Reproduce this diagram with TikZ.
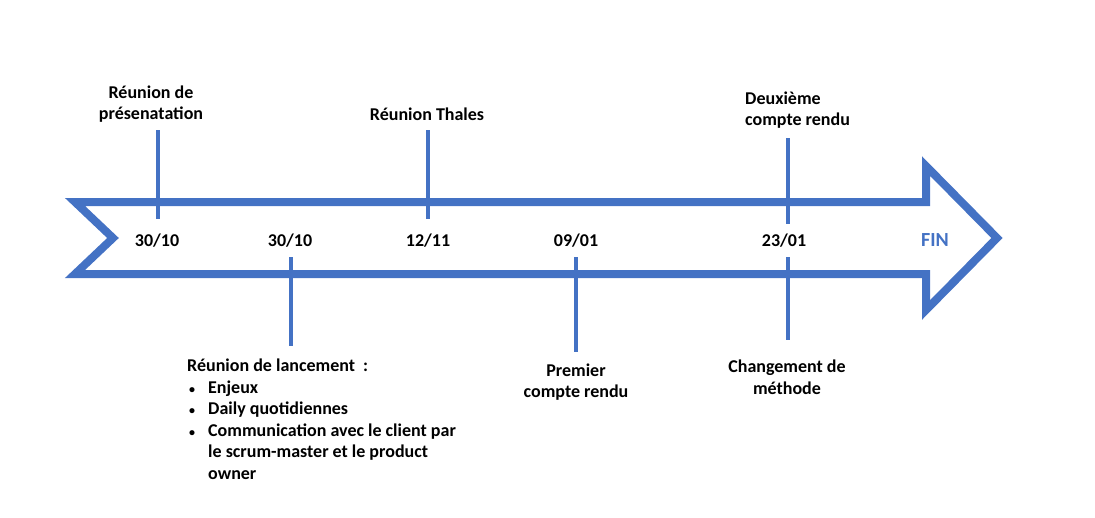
\documentclass[tikz,border=0pt]{standalone}
\usepackage{fontspec}
\setmainfont{Carlito}
\usetikzlibrary{positioning}
\definecolor{tlblue}{RGB}{68,114,196}
\newcommand{\tlbullet}[1]{\makebox[21pt][l]{\hspace{2pt}{\fontsize{12}{12}\selectfont\textbullet}}#1}

\begin{document}
\begin{tikzpicture}[x=1pt,y=-1pt,
  lbl/.style={font=\bfseries\fontsize{18}{21.5}\selectfont, align=center, inner sep=0pt},
  tick/.style={tlblue, line width=4pt}]
\useasboundingbox (0,0) rectangle (1095,517);
% -- Arrow body --
\draw[tlblue, line width=8pt, line join=miter]
  (75,202) -- (926,202) -- (926,166) -- (997,238) -- (926,310)
  -- (926,274) -- (75,274) -- (113,238) -- cycle;
% -- Dates inside the arrow --
\foreach \nm/\px/\dt in {d1/157/30\slash 10, d2/290/30\slash 10, d3/428/12\slash 11,
  d4/576/09\slash 01, d5/784/23\slash 01} {
  \node[lbl] (\nm) at (\px,241) {\dt};
}
\node[lbl, text=tlblue, font=\bfseries\fontsize{20}{20}\selectfont] (fin) at (935,240) {FIN};
% Tick ends
\foreach \nm/\px/\ya/\yb in {t1/158/130/219, t2/291/257/346, t3/428/130/219,
  t4/576/257/352, t5/788/138/224, t6/788/257/340} {
  \coordinate (\nm a) at (\px,\ya);
  \coordinate (\nm b) at (\px,\yb);
  \draw[tick] (\nm a) -- (\nm b);
}
% -- Labels above --
\node[lbl] (pres) at (151,104) {Réunion de\\présenatation};
\node[lbl] (thales) at (427,114) {Réunion Thales};
\node[lbl, align=left, anchor=west] (cr2) at (745,110) {Deuxième\\compte rendu};
% -- Labels below --
\node[lbl] (cr1) at (576,382) {Premier\\compte rendu};
\node[lbl] (meth) at (787,377) {Changement de\\méthode};
\node[lbl, align=left, anchor=north west] (lanc) at (187,359)
  {Réunion de lancement~ :\\
   \tlbullet{Enjeux}\\
   \tlbullet{Daily quotidiennes}\\
   \tlbullet{Communication avec le client par}\\
   \hspace*{21pt}le scrum-master et le product\\
   \hspace*{21pt}owner};
\end{tikzpicture}
\end{document}
